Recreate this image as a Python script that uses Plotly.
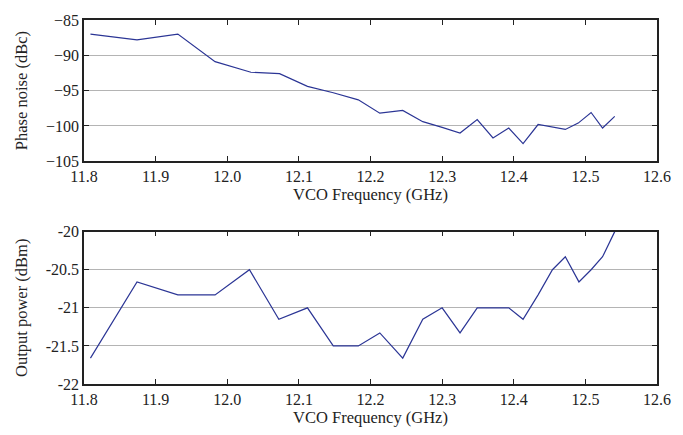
import plotly.graph_objects as go
from plotly.subplots import make_subplots

freq_pn = [11.809, 11.874, 11.931, 11.983, 12.033, 12.073, 12.112, 12.148, 12.183, 12.213,
           12.245, 12.273, 12.300, 12.325, 12.349, 12.371, 12.393, 12.413, 12.434, 12.454,
           12.472, 12.490, 12.508, 12.524, 12.541]
phase_noise = [-87.0, -87.8, -87.0, -90.9, -92.4, -92.6, -94.4, -95.3, -96.3, -98.2,
               -97.8, -99.4, -100.2, -101.0, -99.1, -101.7, -100.3, -102.5, -99.8, -100.15,
               -100.5, -99.6, -98.1, -100.3, -98.65]

freq_pw = [11.809, 11.874, 11.931, 11.983, 12.031, 12.072, 12.112, 12.148, 12.183, 12.213,
           12.245, 12.273, 12.300, 12.325, 12.349, 12.371, 12.393, 12.413, 12.434, 12.454,
           12.472, 12.491, 12.508, 12.524, 12.541]
out_power = [-21.66, -20.66, -20.83, -20.83, -20.5, -21.15, -21.0, -21.5, -21.5, -21.33,
             -21.66, -21.15, -21.0, -21.33, -21.0, -21.0, -21.0, -21.15, -20.83, -20.5,
             -20.33, -20.66, -20.5, -20.33, -20.0]

x_ticks = [11.8, 11.9, 12.0, 12.1, 12.2, 12.3, 12.4, 12.5, 12.6]
x_ticklabels = ["11.8", "11.9", "12.0", "12.1", "12.2", "12.3", "12.4", "12.5", "12.6"]
pn_ticks = [-85, -90, -95, -100, -105]
pw_ticks = [-20, -20.5, -21, -21.5, -22]
pw_ticklabels = ["-20", "-20.5", "-21", "-21.5", "-22"]

LINE = "#2b3595"
FONT = "Liberation Serif, Times New Roman, Times, serif"
TICK_SIZE = 16
TITLE_SIZE = 16.5

fig = make_subplots(rows=2, cols=1)
fig.add_trace(go.Scatter(x=freq_pn, y=phase_noise, mode="lines",
                         line=dict(color=LINE, width=1.2), showlegend=False), row=1, col=1)
fig.add_trace(go.Scatter(x=freq_pw, y=out_power, mode="lines",
                         line=dict(color=LINE, width=1.2), showlegend=False), row=2, col=1)

axis_common = dict(showline=True, linecolor="#222", linewidth=1.5, mirror="ticks",
                   ticks="inside", ticklen=5, tickcolor="#222", tickwidth=1.2,
                   zeroline=False, tickfont=dict(family=FONT, size=TICK_SIZE, color="#222"))

fig.update_layout(
    width=683, height=435,
    margin=dict(l=83.5, r=17.5, t=14, b=50),
    plot_bgcolor="white", paper_bgcolor="white",
    font=dict(family=FONT, size=TICK_SIZE, color="#222"),
    xaxis=dict(domain=[0, 1], range=[11.8, 12.6], tickvals=x_ticks, ticktext=x_ticklabels,
               showgrid=False, anchor="y",
               title=dict(text="VCO Frequency (GHz)", font=dict(family=FONT, size=TITLE_SIZE), standoff=3),
               **axis_common),
    yaxis=dict(domain=[0.612, 1.0], range=[-105, -85], tickvals=pn_ticks,
               showgrid=True, gridcolor="#b4b4b4", gridwidth=1, anchor="x",
               title=dict(text="Phase noise (dBc)", font=dict(family=FONT, size=TITLE_SIZE), standoff=14),
               **axis_common),
    xaxis2=dict(domain=[0, 1], range=[11.8, 12.6], tickvals=x_ticks, ticktext=x_ticklabels,
                showgrid=False, anchor="y2",
                title=dict(text="VCO Frequency (GHz)", font=dict(family=FONT, size=TITLE_SIZE), standoff=3),
                **axis_common),
    yaxis2=dict(domain=[0.0, 0.4186], range=[-22, -20], tickvals=pw_ticks, ticktext=pw_ticklabels,
                showgrid=True, gridcolor="#b4b4b4", gridwidth=1, anchor="x2",
                title=dict(text="Output power (dBm)", font=dict(family=FONT, size=TITLE_SIZE), standoff=14),
                **axis_common),
)

fig.write_html("out.html")
